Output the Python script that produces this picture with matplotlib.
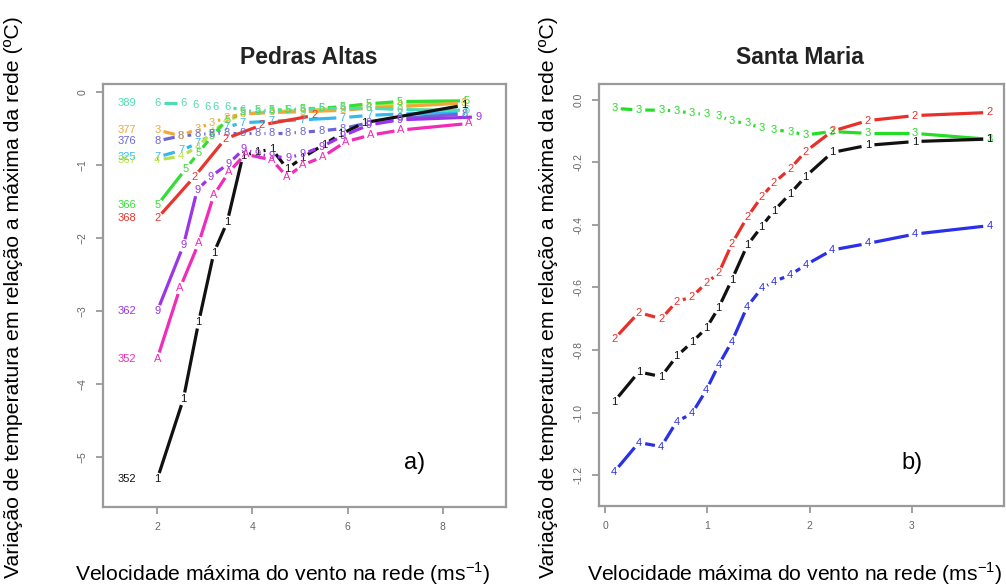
import numpy as np
import matplotlib
matplotlib.use("Agg")
import matplotlib.pyplot as plt

plt.rcParams['font.family'] = ['Liberation Sans', 'DejaVu Sans']

# ---------------- Pedras Altas (panel a) ----------------
pa_x1 = [2.0, 2.55, 2.87, 3.19, 3.47, 3.8, 4.1, 4.41, 4.73, 5.05, 5.5, 5.85, 6.35, 8.45]
pa_y1 = [-5.3, -4.2, -3.15, -2.2, -1.78, -0.87, -0.82, -0.78, -1.05, -0.9, -0.72, -0.58, -0.42, -0.18]
pa_x2 = [2.0, 2.78, 3.43, 4.2, 5.3]
pa_y2 = [-1.73, -1.16, -0.64, -0.45, -0.32]
pa_x3 = [2.0, 2.5, 2.85, 3.15, 3.45, 3.8, 4.4, 5.05, 5.9, 6.45, 7.1, 8.45]
pa_y3 = [-0.52, -0.6, -0.5, -0.42, -0.35, -0.3, -0.28, -0.27, -0.25, -0.22, -0.2, -0.15]
pa_x4 = [2.0, 2.5, 2.85, 3.15, 3.45, 3.8, 4.4, 5.05, 5.9, 6.45, 7.1, 8.45]
pa_y4 = [-0.93, -0.88, -0.75, -0.55, -0.4, -0.3, -0.27, -0.25, -0.22, -0.2, -0.17, -0.13]
pa_x5 = [2.0, 2.6, 2.87, 3.15, 3.47, 3.8, 4.1, 4.4, 4.75, 5.05, 5.45, 5.9, 6.45, 7.1, 8.5]
pa_y5 = [-1.55, -1.05, -0.83, -0.6, -0.38, -0.28, -0.25, -0.25, -0.24, -0.23, -0.22, -0.2, -0.16, -0.13, -0.12]
pa_x6 = [2.0, 2.55, 2.8, 3.05, 3.22, 3.47, 3.8, 4.1, 4.4, 4.75, 5.05, 5.45, 5.9, 6.45, 7.1, 8.5]
pa_y6 = [-0.15, -0.15, -0.18, -0.2, -0.2, -0.2, -0.25, -0.27, -0.26, -0.25, -0.24, -0.22, -0.22, -0.22, -0.24, -0.25]
pa_x7 = [2.0, 2.5, 2.85, 3.15, 3.45, 3.8, 4.4, 5.05, 5.9, 6.45, 7.1, 8.45]
pa_y7 = [-0.89, -0.8, -0.7, -0.58, -0.48, -0.42, -0.4, -0.38, -0.35, -0.32, -0.3, -0.28]
pa_x8 = [2.0, 2.5, 2.85, 3.15, 3.45, 3.8, 4.1, 4.4, 4.75, 5.05, 5.45, 5.9, 6.45, 7.1, 8.45]
pa_y8 = [-0.67, -0.6, -0.58, -0.57, -0.56, -0.56, -0.56, -0.56, -0.56, -0.55, -0.53, -0.5, -0.42, -0.36, -0.3]
pa_x9 = [2.0, 2.55, 2.84, 3.12, 3.5, 3.82, 4.1, 4.4, 4.75, 5.05, 5.45, 5.9, 6.45, 7.1, 8.75]
pa_y9 = [-3.0, -2.1, -1.34, -1.16, -0.98, -0.78, -0.85, -0.88, -0.9, -0.85, -0.75, -0.6, -0.45, -0.38, -0.34]
pa_x10 = [2.0, 2.48, 2.87, 3.19, 3.5, 3.85, 4.41, 4.73, 5.05, 5.47, 5.96, 6.48, 7.12, 8.55]
pa_y10 = [-3.65, -2.68, -2.07, -1.41, -1.1, -0.85, -0.93, -1.16, -1.0, -0.89, -0.68, -0.59, -0.52, -0.43]

pa_symbols = ["1", "2", "3", "4", "5", "6", "7", "8", "9", "A"]
pa_tags = ["352", "368", "377", "367", "366", "389", "325", "376", "362", "352"]
pa_colors = ["#111111", "#e8352e", "#f0a838", "#b9e34c", "#35dd35",
             "#4fdcb2", "#35b8ee", "#6b66d8", "#9c34ea", "#f02cb8"]

# ---------------- Santa Maria (panel b) ----------------
sm_x = [0.09, 0.33, 0.55, 0.70, 0.85, 0.99, 1.11, 1.24, 1.39, 1.53, 1.65,
        1.81, 1.96, 2.22, 2.57, 3.03, 3.76]
sm_y1 = [-0.965, -0.87, -0.885, -0.82, -0.775, -0.73, -0.665, -0.575, -0.465,
         -0.405, -0.355, -0.30, -0.245, -0.168, -0.145, -0.133, -0.125]
sm_y2 = [-0.765, -0.68, -0.70, -0.645, -0.63, -0.585, -0.555, -0.46, -0.375,
         -0.31, -0.265, -0.22, -0.165, -0.10, -0.066, -0.05, -0.04]
sm_y3 = [-0.027, -0.032, -0.033, -0.035, -0.043, -0.046, -0.05, -0.068, -0.075,
         -0.09, -0.096, -0.101, -0.112, -0.101, -0.107, -0.107, -0.126]
sm_y4 = [-1.19, -1.096, -1.109, -1.029, -1.003, -0.928, -0.848, -0.773, -0.661,
         -0.603, -0.581, -0.56, -0.528, -0.48, -0.459, -0.429, -0.402]
sm_symbols = ["1", "2", "3", "4"]
sm_colors = ["#111111", "#e8302a", "#25dd25", "#2a30e8"]

W, H = 1006, 587
fig = plt.figure(figsize=(W / 100, H / 100), dpi=100)
fig.patch.set_facecolor("white")

spine_col = "#9a9a9a"
tick_col = "#666666"


def px_rect(x0, y0, x1, y1):
    return [x0 / W, 1 - y1 / H, (x1 - x0) / W, (y1 - y0) / H]


def style_axes(ax):
    for s in ax.spines.values():
        s.set_color(spine_col)
        s.set_linewidth(1.6)
    ax.tick_params(colors=spine_col, labelcolor=tick_col, labelsize=7.5,
                   length=5, width=1.3, direction="out", pad=6)
    for lab in ax.get_yticklabels():
        lab.set_rotation(90)
        lab.set_va("center")


def draw_b(ax, xs, ys, ch, color, gap=6.5, lw=2.3, fs=8):
    """Lines broken around each plotted symbol (R type='b')."""
    pts = ax.transData.transform(np.column_stack([xs, ys]))
    inv = ax.transData.inverted()
    for p0, p1 in zip(pts[:-1], pts[1:]):
        d = p1 - p0
        L = np.hypot(*d)
        if L <= 2 * gap + 1:
            continue
        u = d / L
        a = inv.transform(p0 + u * gap)
        b = inv.transform(p1 - u * gap)
        ax.plot([a[0], b[0]], [a[1], b[1]], color=color, lw=lw,
                solid_capstyle="butt")
    for x, y in zip(xs, ys):
        ax.text(x, y, ch, color=color, ha="center", va="center", fontsize=fs)


# Panel a
ax1 = fig.add_axes(px_rect(103, 84, 506, 507))
ax1.set_xlim(0.86, 9.33)
ax1.set_ylim(-5.68, 0.11)
ax1.set_xticks([2, 4, 6, 8])
ax1.set_yticks([0, -1, -2, -3, -4, -5])
style_axes(ax1)

pa_xs = [pa_x1, pa_x2, pa_x3, pa_x4, pa_x5, pa_x6, pa_x7, pa_x8, pa_x9, pa_x10]
pa_ys = [pa_y1, pa_y2, pa_y3, pa_y4, pa_y5, pa_y6, pa_y7, pa_y8, pa_y9, pa_y10]
draw_order = [6, 3, 4, 7, 2, 5, 1, 0, 8, 9]
for i in draw_order:
    draw_b(ax1, pa_xs[i], pa_ys[i], pa_symbols[i], pa_colors[i])
for i in draw_order:
    ax1.text(1.36, pa_ys[i][0], pa_tags[i], color=pa_colors[i],
             ha="center", va="center", fontsize=8)
ax1.text(0.774, 0.104, "a)", transform=ax1.transAxes, fontsize=17,
         ha="center", va="center")

# Panel b
ax2 = fig.add_axes(px_rect(599, 84, 1004, 506))
ax2.set_xlim(-0.059, 3.90)
ax2.set_ylim(-1.299, 0.051)
ax2.set_xticks([0, 1, 2, 3])
ax2.set_yticks([0.0, -0.2, -0.4, -0.6, -0.8, -1.0, -1.2])
ax2.set_yticklabels(["0.0", "-0.2", "-0.4", "-0.6", "-0.8", "-1.0", "-1.2"])
style_axes(ax2)

for ys, ch, col in zip([sm_y3, sm_y1, sm_y2, sm_y4], ["3", "1", "2", "4"],
                       [sm_colors[2], sm_colors[0], sm_colors[1], sm_colors[3]]):
    draw_b(ax2, sm_x, ys, ch, col)
ax2.text(0.773, 0.102, "b)", transform=ax2.transAxes, fontsize=17,
         ha="center", va="center")

# Titles and axis labels
fig.text(309 / W, 1 - 57 / H, "Pedras Altas", fontsize=16.5, fontweight="bold",
         ha="center", va="center", color="#222222")
fig.text(800 / W, 1 - 57 / H, "Santa Maria", fontsize=16.5, fontweight="bold",
         ha="center", va="center", color="#222222")

ylab = "Variação de temperatura em relação a máxima da rede (ºC)"
fig.text(14 / W, 1 - 297 / H, ylab, rotation=90, fontsize=15.3,
         ha="center", va="center")
fig.text(548 / W, 1 - 297 / H, ylab, rotation=90, fontsize=15.3,
         ha="center", va="center")

xlab = r"Velocidade máxima do vento na rede (ms$^{\mathregular{-1}}$)"
fig.text(283 / W, 1 - 574 / H, xlab, fontsize=15.2, ha="center", va="center")
fig.text(795 / W, 1 - 574 / H, xlab, fontsize=15.2, ha="center", va="center")

fig.savefig("out.png", dpi=100, facecolor="white")
